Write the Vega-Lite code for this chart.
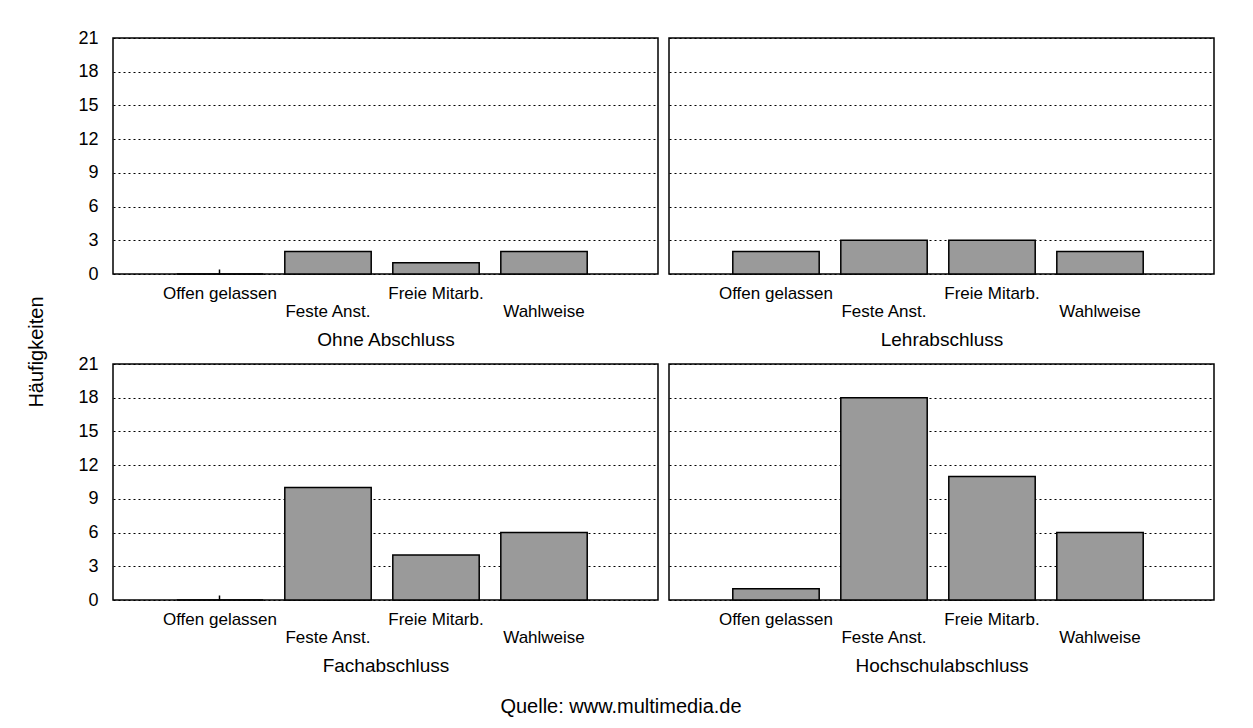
{
  "$schema": "https://vega.github.io/schema/vega-lite/v6.json",
  "background": "white",
  "padding": {"left": 27, "top": 28, "right": 5, "bottom": 5},
  "autosize": {"type": "pad"},
  "datasets": {
    "d": [
      {"g": "Ohne Abschluss", "k": "Offen gelassen", "v": 0},
      {"g": "Ohne Abschluss", "k": "Feste Anst.", "v": 2},
      {"g": "Ohne Abschluss", "k": "Freie Mitarb.", "v": 1},
      {"g": "Ohne Abschluss", "k": "Wahlweise", "v": 2},
      {"g": "Lehrabschluss", "k": "Offen gelassen", "v": 2},
      {"g": "Lehrabschluss", "k": "Feste Anst.", "v": 3},
      {"g": "Lehrabschluss", "k": "Freie Mitarb.", "v": 3},
      {"g": "Lehrabschluss", "k": "Wahlweise", "v": 2},
      {"g": "Fachabschluss", "k": "Offen gelassen", "v": 0},
      {"g": "Fachabschluss", "k": "Feste Anst.", "v": 10},
      {"g": "Fachabschluss", "k": "Freie Mitarb.", "v": 4},
      {"g": "Fachabschluss", "k": "Wahlweise", "v": 6},
      {"g": "Hochschulabschluss", "k": "Offen gelassen", "v": 1},
      {"g": "Hochschulabschluss", "k": "Feste Anst.", "v": 18},
      {"g": "Hochschulabschluss", "k": "Freie Mitarb.", "v": 11},
      {"g": "Hochschulabschluss", "k": "Wahlweise", "v": 6}
    ]
  },
  "data": {"name": "d"},
  "title": {"text": "Quelle: www.multimedia.de", "orient": "bottom", "anchor": "middle", "fontSize": 20, "fontWeight": "normal", "color": "black", "offset": 21},
  "vconcat": [
    {
      "title": {"text": "Häufigkeiten", "orient": "left", "anchor": "middle", "fontSize": 20, "fontWeight": "normal", "color": "black", "offset": 30},
      "columns": 2,
      "spacing": {"row": 4, "column": 9},
      "concat": [
        {
          "width": 545, "height": 236,
          "transform": [{"filter": "datum.g === 'Ohne Abschluss'"}],
          "mark": {"type": "bar", "fill": "#9a9a9a", "stroke": "black", "strokeWidth": 1.5},
          "encoding": {
            "x": {"field": "k", "type": "nominal", "sort": ["Offen gelassen", "Feste Anst.", "Freie Mitarb.", "Wahlweise"],
              "scale": {"paddingInner": 0.2, "paddingOuter": 0.623, "align": 0.474},
              "axis": {"title": "Ohne Abschluss"}},
            "y": {"field": "v", "type": "quantitative", "scale": {"domain": [0, 21]},
              "axis": {"labels": true, "values": [0, 3, 6, 9, 12, 15, 18, 21]}}
          }
        },
        {
          "width": 545, "height": 236,
          "transform": [{"filter": "datum.g === 'Lehrabschluss'"}],
          "mark": {"type": "bar", "fill": "#9a9a9a", "stroke": "black", "strokeWidth": 1.5},
          "encoding": {
            "x": {"field": "k", "type": "nominal", "sort": ["Offen gelassen", "Feste Anst.", "Freie Mitarb.", "Wahlweise"],
              "scale": {"paddingInner": 0.2, "paddingOuter": 0.623, "align": 0.474},
              "axis": {"title": "Lehrabschluss"}},
            "y": {"field": "v", "type": "quantitative", "scale": {"domain": [0, 21]},
              "axis": {"labels": false, "values": [0, 3, 6, 9, 12, 15, 18, 21]}}
          }
        },
        {
          "width": 545, "height": 236,
          "transform": [{"filter": "datum.g === 'Fachabschluss'"}],
          "mark": {"type": "bar", "fill": "#9a9a9a", "stroke": "black", "strokeWidth": 1.5},
          "encoding": {
            "x": {"field": "k", "type": "nominal", "sort": ["Offen gelassen", "Feste Anst.", "Freie Mitarb.", "Wahlweise"],
              "scale": {"paddingInner": 0.2, "paddingOuter": 0.623, "align": 0.474},
              "axis": {"title": "Fachabschluss"}},
            "y": {"field": "v", "type": "quantitative", "scale": {"domain": [0, 21]},
              "axis": {"labels": true, "values": [0, 3, 6, 9, 12, 15, 18, 21]}}
          }
        },
        {
          "width": 545, "height": 236,
          "transform": [{"filter": "datum.g === 'Hochschulabschluss'"}],
          "mark": {"type": "bar", "fill": "#9a9a9a", "stroke": "black", "strokeWidth": 1.5},
          "encoding": {
            "x": {"field": "k", "type": "nominal", "sort": ["Offen gelassen", "Feste Anst.", "Freie Mitarb.", "Wahlweise"],
              "scale": {"paddingInner": 0.2, "paddingOuter": 0.623, "align": 0.474},
              "axis": {"title": "Hochschulabschluss"}},
            "y": {"field": "v", "type": "quantitative", "scale": {"domain": [0, 21]},
              "axis": {"labels": false, "values": [0, 3, 6, 9, 12, 15, 18, 21]}}
          }
        }
      ]
    }
  ],
  "config": {
    "font": "Liberation Sans",
    "view": {"stroke": "black", "strokeWidth": 1.5},
    "axisX": {
      "labelAngle": 0,
      "labelExpr": "(datum.value == 'Feste Anst.' || datum.value == 'Wahlweise') ? ['', datum.value] : datum.value",
      "labelFontSize": 17, "labelLineHeight": 18, "labelPadding": 16, "labelColor": "black",
      "labelOverlap": false, "labelFlush": false, "labelLimit": 0,
      "ticks": true, "tickSize": -5, "tickColor": "black", "tickWidth": 1.5,
      "domain": false, "grid": false,
      "titleFontSize": 19, "titleFontWeight": "normal", "titleColor": "black", "titlePadding": 11
    },
    "axisY": {
      "title": null,
      "grid": true, "gridDash": [2, 3], "gridColor": "black", "gridOpacity": 1, "gridWidth": 1,
      "ticks": false, "domain": false,
      "labelFontSize": 18, "labelPadding": 15, "labelColor": "black"
    }
  }
}
